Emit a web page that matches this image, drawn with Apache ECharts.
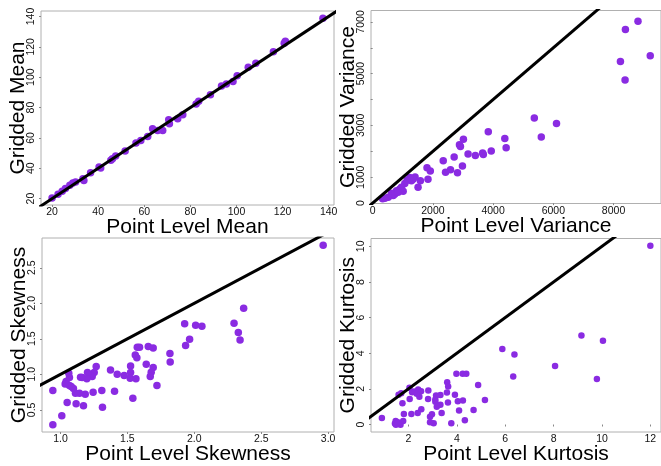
<!DOCTYPE html>
<html>
<head>
<meta charset="utf-8">
<script src="https://cdn.jsdelivr.net/npm/echarts@6/dist/echarts.min.js"></script>
<style>
html,body{margin:0;padding:0;background:#fff;}
#chart{width:661px;height:466px;}
</style>
</head>
<body>
<div id="chart"></div>
<script>
// ---- data ----
const meanX = [20,22.6,24.4,25.8,27.7,29.0,30.2,33.4,33.8,36.7,40.4,41.1,45.5,46.2,47.6,51.7,56.4,58.5,61.5,63.6,65.8,68.0,70.6,70.9,74.5,76.7,82.5,83.6,88.7,93.5,95.6,98.5,100.3,105.1,108.4,116.0,120.7,121.2,137.5];
const meanY = [20.4,22.8,24.8,26.6,28.8,30.3,30.9,33.1,32.0,37.1,40.8,40.1,45.2,46.3,48.0,51.3,56.6,58.3,60.9,66.0,64.9,64.9,71.9,69.3,72.6,75.2,82.4,84.2,88.5,94.2,95.5,97.1,101.0,106.5,109.1,116.8,122.3,123.6,138.9];

const varX = [8812,8394,8229,9219,8383,5368,6105,5600,3839,4389,4433,3938,3652,3674,3410,3168,3014,2882,2915,2706,2343,2981,2816,2585,2420,1804,1914,1837,1584,1507,1408,1342,1287,1232,1144,1067,957,1012,902,792,737,627,682,517,330,407,847];
const varY = [7025,6709,5468,5696,4759,3291,3076,2557,2759,2494,2139,2013,1937,1873,1835,1899,2468,2253,2190,1785,1633,1430,1177,1291,1190,1367,1241,924,861,608,1013,924,861,987,886,759,608,456,544,481,354,380,291,228,165,190,418];

const skewX = [2.963,2.369,2.297,2.329,2.342,1.928,2.010,2.057,1.965,1.935,1.818,1.820,1.574,1.591,1.656,1.693,1.559,1.571,1.641,1.693,1.678,1.671,1.721,1.524,1.524,1.521,1.564,1.476,1.424,1.374,1.404,1.541,1.314,1.309,1.267,1.252,1.237,1.202,1.197,1.162,1.150,1.244,1.185,1.142,1.112,1.097,1.080,1.067,1.067,1.062,1.042,1.035,1.050,1.117,1.172,0.943,1.010,0.943];
const skewY = [2.818,1.929,1.718,1.587,1.484,1.713,1.690,1.676,1.493,1.404,1.292,1.174,1.381,1.381,1.390,1.371,1.273,1.235,1.142,1.095,1.029,0.968,0.842,1.118,1.025,0.945,0.936,0.982,1.001,1.062,0.762,0.664,0.537,0.772,1.109,1.025,0.968,1.025,0.936,0.954,0.959,0.748,0.720,0.734,0.734,0.800,0.828,0.842,0.954,1.015,0.898,0.865,0.603,0.584,0.556,0.772,0.416,0.289];

const kurtX = [12.0,9.15,10.04,9.79,8.06,5.88,6.38,6.33,4.88,5.16,4.69,3.98,4.24,4.39,3.60,3.64,3.59,3.92,4.04,4.25,3.63,4.09,4.33,3.77,3.37,3.32,3.32,3.14,3.11,3.11,3.17,2.82,2.81,2.89,2.97,2.89,3.04,2.52,2.40,2.45,2.34,2.23,2.15,2.04,2.53,2.38,2.12,2.05,1.75,1.70,1.59,1.81,1.78,1.67,1.47,1.44,1.48,1.56,0.90];
const kurtY = [10.04,5.0,4.70,2.56,3.28,4.24,3.93,2.70,2.22,1.37,0.81,2.85,2.85,2.85,2.37,2.13,1.80,1.67,1.31,1.35,1.24,0.78,0.24,0.07,0.65,1.65,1.11,1.63,1.41,1.28,1.0,1.91,1.43,0.44,0.57,0.13,0.07,1.87,1.96,1.56,1.72,1.85,1.81,2.07,0.85,0.65,0.59,1.43,1.20,1.76,1.67,0.59,0.20,-0.02,0.20,0.06,-0.02,0.13,0.37];

// tick values
const meanTicks = [20,40,60,80,100,120,140];
const varXTicks = [0,2000,4000,6000,8000];
const varYTicks = [0,1000,2000,3000,4000,5000,6000,7000];
const varYLabels = [0,1000,3000,5000,7000];
const skewTicks = [0.5,1.0,1.5,2.0,2.5,3.0];
const kurtXTicks = [2,4,6,8,10,12];
const kurtYTicks = [0,2,4,6,8,10];

// axis names
const xNames = ['Point Level Mean','Point Level Variance','Point Level Skewness','Point Level Kurtosis'];
const yNames = ['Gridded Mean','Gridded Variance','Gridded Skewness','Gridded Kurtosis'];

// identity line (y = x) end points per panel
const identity = [[-1000,1000],[-100000,100000],[-10,10],[-10,100]];

// ---- layout ----
const FONT = '"Liberation Sans", Arial, Helvetica, sans-serif';
const grids = [
  {left:41, top:11, width:293, height:194},
  {left:371, top:10.5, width:292, height:193},
  {left:42, top:238, width:292, height:194},
  {left:371, top:238.5, width:292, height:194}
];
const xr = [[15.2,142.3],[-56,9576],[0.862,3.044],[0.45,12.44]];
const yr = [[15.8,143.6],[-15,7440],[0.188,2.919],[-0.42,10.44]];
const xt = [meanTicks, varXTicks, skewTicks, kurtXTicks];
const yt = [meanTicks, varYTicks, skewTicks, kurtYTicks];
const yl = [meanTicks, varYLabels, skewTicks, kurtYTicks];
const fmt = [v=>String(v), v=>String(v), v=>v.toFixed(1), v=>String(v)];
const xs = [meanX, varX, skewX, kurtX];
const ys = [meanY, varY, skewY, kurtY];
const sizes = [7.5, 7.5, 7.5, 6.5];

const chart = echarts.init(document.getElementById('chart'), null, {renderer:'canvas'});
const option = {
  backgroundColor:'#fff',
  animation:false,
  grid: grids.map(g => Object.assign({show:true, borderColor:'#b0b0b0', borderWidth:1, backgroundColor:'transparent'}, g)),
  xAxis: grids.map((g,i) => ({
    type:'value', gridIndex:i, min:xr[i][0], max:xr[i][1],
    name:xNames[i], nameLocation:'middle', nameGap:12, nameMoveOverlap:false,
    nameTextStyle:{fontSize:21, color:'#000', fontFamily:FONT},
    axisLine:{show:false}, splitLine:{show:false},
    axisTick:{show:true, length:2, inside:false, customValues:xt[i], lineStyle:{color:'#888'}},
    axisLabel:{show:true, hideOverlap:false, customValues:xt[i], formatter:fmt[i], fontSize:10.5, color:'#111', fontFamily:FONT, margin:2, showMinLabel:true, showMaxLabel:true}
  })),
  yAxis: grids.map((g,i) => ({
    type:'value', gridIndex:i, min:yr[i][0], max:yr[i][1],
    name:yNames[i], nameLocation:'middle', nameGap:12, nameRotate:90, nameMoveOverlap:false,
    nameTextStyle:{fontSize:21, color:'#000', fontFamily:FONT},
    axisLine:{show:false}, splitLine:{show:false},
    axisTick:{show:true, length:2, inside:false, customValues:yt[i], lineStyle:{color:'#888'}},
    axisLabel:{show:true, hideOverlap:false, rotate:90, customValues:yl[i], formatter:fmt[i], fontSize:10.5, color:'#111', fontFamily:FONT, margin:4, showMinLabel:true, showMaxLabel:true}
  })),
  series: []
};
for (let i=0;i<4;i++){
  option.series.push({
    type:'scatter', xAxisIndex:i, yAxisIndex:i,
    data: xs[i].map((x,k)=>[x, ys[i][k]]),
    symbol:'circle', symbolSize:sizes[i],
    itemStyle:{color:'#8a2be2', opacity:1},
    clip:true, z:2
  });
  option.series.push({
    type:'line', xAxisIndex:i, yAxisIndex:i,
    data: identity[i].map(v=>[v,v]),
    symbol:'none', clip:true,
    lineStyle:{color:'#000', width:3},
    z:3
  });
}
chart.setOption(option);
</script>
</body>
</html>
